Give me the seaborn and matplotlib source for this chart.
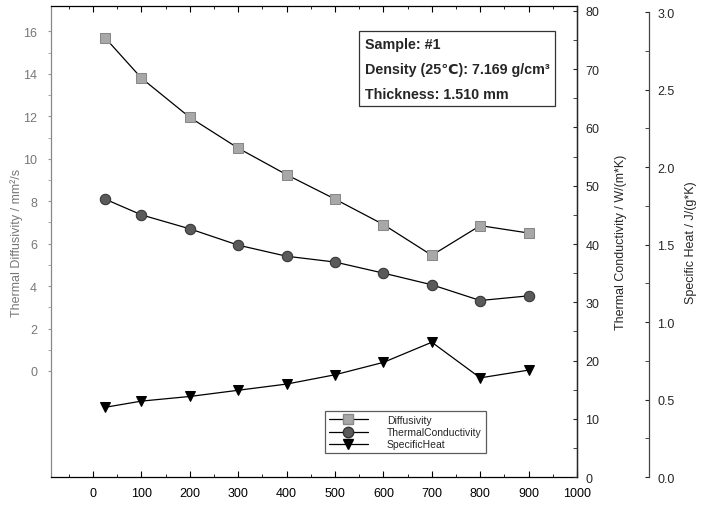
import matplotlib
matplotlib.use("Agg")
import matplotlib.pyplot as plt
from matplotlib.lines import Line2D
from matplotlib.ticker import MultipleLocator, FixedLocator
import seaborn as sns
import pandas as pd

# data
temps = [25, 100, 200, 300, 400, 500, 600, 700, 800, 900]
diffusivity = [15.7, 13.8, 11.95, 10.5, 9.25, 8.1, 6.9, 5.45, 6.85, 6.5]
conductivity = [47.7, 45.0, 42.6, 39.8, 37.9, 36.9, 35.0, 33.0, 30.3, 31.1]
specific_heat = [0.45, 0.49, 0.52, 0.56, 0.60, 0.66, 0.74, 0.87, 0.64, 0.69]

x_ticks = list(range(0, 1001, 100))
diff_ticks = list(range(0, 17, 2))
info_lines = ["Sample: #1", "Density (25\u2103): 7.169 g/cm\u00b3", "Thickness: 1.510 mm"]
legend_names = ["Diffusivity", "ThermalConductivity", "SpecificHeat"]

df = pd.DataFrame({"T": temps, "diff": diffusivity, "cond": conductivity, "cp": specific_heat})

sns.set_style("white")
plt.rcParams['font.family'] = ['Liberation Sans', 'DejaVu Sans']
plt.rcParams['axes.linewidth'] = 0.9

fig = plt.figure(figsize=(7.04, 5.06), dpi=100)
ax = fig.add_axes([0.0724, 0.0553, 0.7472, 0.9308])
ax2 = ax.twinx()
ax3 = ax.twinx()

sq_style = dict(marker="s", markersize=6.5, markerfacecolor="#a8a8a8", markeredgecolor="#888888")
ci_style = dict(marker="o", markersize=7.5, markerfacecolor="#5a5a5a", markeredgecolor="#333333")
tr_style = dict(marker="v", markersize=7.5, markerfacecolor="black", markeredgecolor="black")

sns.lineplot(data=df, x="T", y="diff", ax=ax, color="black", linewidth=0.9, **sq_style)
sns.lineplot(data=df, x="T", y="cond", ax=ax2, color="black", linewidth=0.9, **ci_style)
sns.lineplot(data=df, x="T", y="cp", ax=ax3, color="black", linewidth=0.9, **tr_style)

# x axis
ax.set_xlim(-87, 1000)
ax.xaxis.set_major_locator(FixedLocator(x_ticks))
ax.xaxis.set_minor_locator(MultipleLocator(50))
ax.tick_params(axis="x", which="both", direction="in", top=True, bottom=True,
               labelsize=9, pad=7, colors="black")
ax.tick_params(axis="x", which="major", length=4)
ax.tick_params(axis="x", which="minor", length=2.5)
ax.set_xlabel("")

# left axis
ax.set_ylim(-5.0, 17.2)
ax.yaxis.set_major_locator(FixedLocator(diff_ticks))
ax.yaxis.set_minor_locator(FixedLocator([v + 1 for v in diff_ticks[:-1]]))
ax.tick_params(axis="y", which="both", direction="out", length=2, labelsize=9,
               labelcolor="#777777", color="#999999", pad=8)
ax.set_ylabel("Thermal Diffusivity / mm\u00b2/s", color="#777777", fontsize=9, labelpad=0)
for s in ax.spines.values():
    s.set_color("black")
ax.spines["left"].set_color("#888888")

# conductivity axis
ax2.set_ylim(0, 80.85)
ax2.yaxis.set_major_locator(MultipleLocator(10))
ax2.yaxis.set_minor_locator(MultipleLocator(5))
ax2.tick_params(axis="y", which="both", direction="in", length=3, labelsize=9, pad=6)
ax2.set_ylabel("Thermal Conductivity / W/(m*K)", fontsize=9, labelpad=11)
for side in ["left", "top", "bottom"]:
    ax2.spines[side].set_visible(False)

# specific heat axis
ax3.spines["right"].set_position(("outward", 52))
ax3.set_ylim(0, 3.04)
ax3.spines["right"].set_bounds(0, 3.0)
ax3.yaxis.set_major_locator(MultipleLocator(0.5))
ax3.yaxis.set_minor_locator(MultipleLocator(0.25))
ax3.yaxis.set_major_formatter(matplotlib.ticker.FormatStrFormatter("%.1f"))
ax3.tick_params(axis="y", which="both", direction="in", length=3, labelsize=9, pad=6)
ax3.set_ylabel("Specific Heat / J/(g*K)", fontsize=9, labelpad=7)
for side in ["left", "top", "bottom"]:
    ax3.spines[side].set_visible(False)
ax3.spines["right"].set_color("#444444")

# info box
ax.text(0.597, 0.935, "\n".join(info_lines), transform=ax.transAxes, ha="left", va="top",
        fontsize=10.3, fontweight="bold", linespacing=2.0,
        bbox=dict(boxstyle="square,pad=0.4", facecolor="white", edgecolor="#333333", linewidth=0.9))

# legend
handles = [
    Line2D([], [], color="black", linewidth=0.9, **sq_style),
    Line2D([], [], color="black", linewidth=0.9, **ci_style),
    Line2D([], [], color="black", linewidth=0.9, **tr_style),
]
leg = ax3.legend(handles, legend_names, loc="lower left", bbox_to_anchor=(0.52, 0.05),
                 fontsize=7.5, frameon=True, fancybox=False, handlelength=3.8,
                 labelspacing=0.2, borderpad=0.4, handletextpad=1.8, borderaxespad=0)
leg.get_frame().set_edgecolor("#333333")
leg.get_frame().set_linewidth(0.9)

fig.savefig("out.png", dpi=100)
